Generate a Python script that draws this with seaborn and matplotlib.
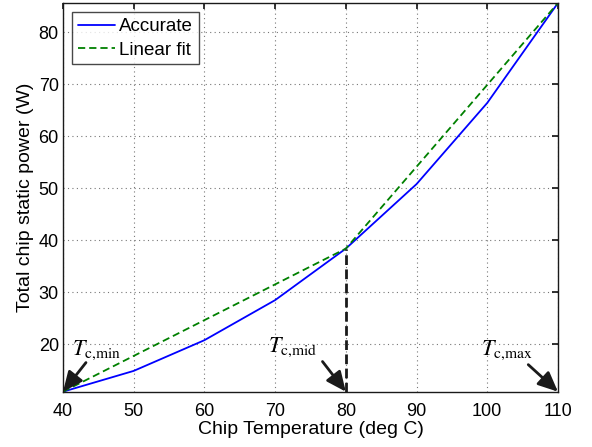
import matplotlib
matplotlib.use("Agg")
import matplotlib.pyplot as plt
import pandas as pd
import seaborn as sns

# chip temperature (deg C) and total static power (W)
temps = [40, 50, 60, 70, 80, 90, 100, 110]
accurate = [10.9, 14.9, 20.8, 28.5, 38.4, 50.8, 66.4, 85.6]
# piecewise linear fit through Tc,min / Tc,mid / Tc,max
fit_temps = [40, 80, 110]
fit_power = [10.9, 38.4, 85.6]

corner_labels = [r"$T_{\mathrm{c{,}min}}$", r"$T_{\mathrm{c{,}mid}}$", r"$T_{\mathrm{c{,}max}}$"]
corner_temps = [40, 80, 110]

sns.set_theme(style="white")
plt.rcParams["font.family"] = ["Liberation Sans", "DejaVu Sans"]
plt.rcParams["mathtext.fontset"] = "stix"
for key in ["text.color", "axes.labelcolor", "xtick.color", "ytick.color"]:
    plt.rcParams[key] = "black"

df = pd.concat([
    pd.DataFrame({"temp": temps, "power": accurate, "kind": "Accurate"}),
    pd.DataFrame({"temp": fit_temps, "power": fit_power, "kind": "Linear fit"}),
])

fig = plt.figure(figsize=(5.92, 4.47), dpi=100)
ax = fig.add_axes([0.1064, 0.1237, 0.8361, 0.8696])

sns.lineplot(data=df, x="temp", y="power", hue="kind", style="kind",
             palette={"Accurate": "#0000ff", "Linear fit": "#008000"},
             dashes={"Accurate": "", "Linear fit": (4, 2.2)},
             linewidth=1.3, ax=ax)

ymin, ymax = min(accurate), max(accurate)
ax.set_xlim(40, 110)
ax.set_ylim(ymin, ymax)

# Tc,mid marker line
ax.plot([80, 80], [ymin, fit_power[1]], color="k", ls="--", lw=2.0, dashes=(3.5, 1.6))

# corner annotations
text_pos = [(44.7, 18.9), (72.5, 19.5), (102.7, 18.9)]
arrow_from = [(43.25, 16.5), (76.7, 16.7), (105.8, 16.1)]
for lab, t, tp, af in zip(corner_labels, corner_temps, text_pos, arrow_from):
    ax.text(tp[0], tp[1], lab, fontsize=16, ha="center", va="center")
    ax.annotate("", xy=(t, ymin), xytext=af,
                arrowprops=dict(arrowstyle="-|>,head_length=1.0,head_width=0.45",
                                color="k", lw=2, shrinkA=0, shrinkB=0))

ax.set_xticks(range(40, 111, 10))
ax.set_yticks(range(20, 81, 10))
ax.grid(True, ls=(0, (1, 3)), color="#777777", lw=0.8)
ax.tick_params(direction="in", top=True, right=True, length=4, labelsize=13,
               color="k")
ax.tick_params(axis="x", pad=8)
ax.tick_params(axis="y", pad=3)
for s in ax.spines.values():
    s.set_color("k")
    s.set_linewidth(1.0)

ax.set_xlabel("Chip Temperature (deg C)", fontsize=14, labelpad=0.5)
ax.set_ylabel("Total chip static power (W)", fontsize=14, labelpad=3)

leg = ax.legend(loc="upper left", fontsize=13.5, frameon=True, fancybox=False,
                borderaxespad=0.5, handlelength=2.0, handletextpad=0.2,
                borderpad=0.3, labelspacing=0.35)
leg.set_title(None)
leg.get_frame().set_edgecolor("k")
leg.get_frame().set_linewidth(1.0)

fig.savefig("out.png", dpi=100)
